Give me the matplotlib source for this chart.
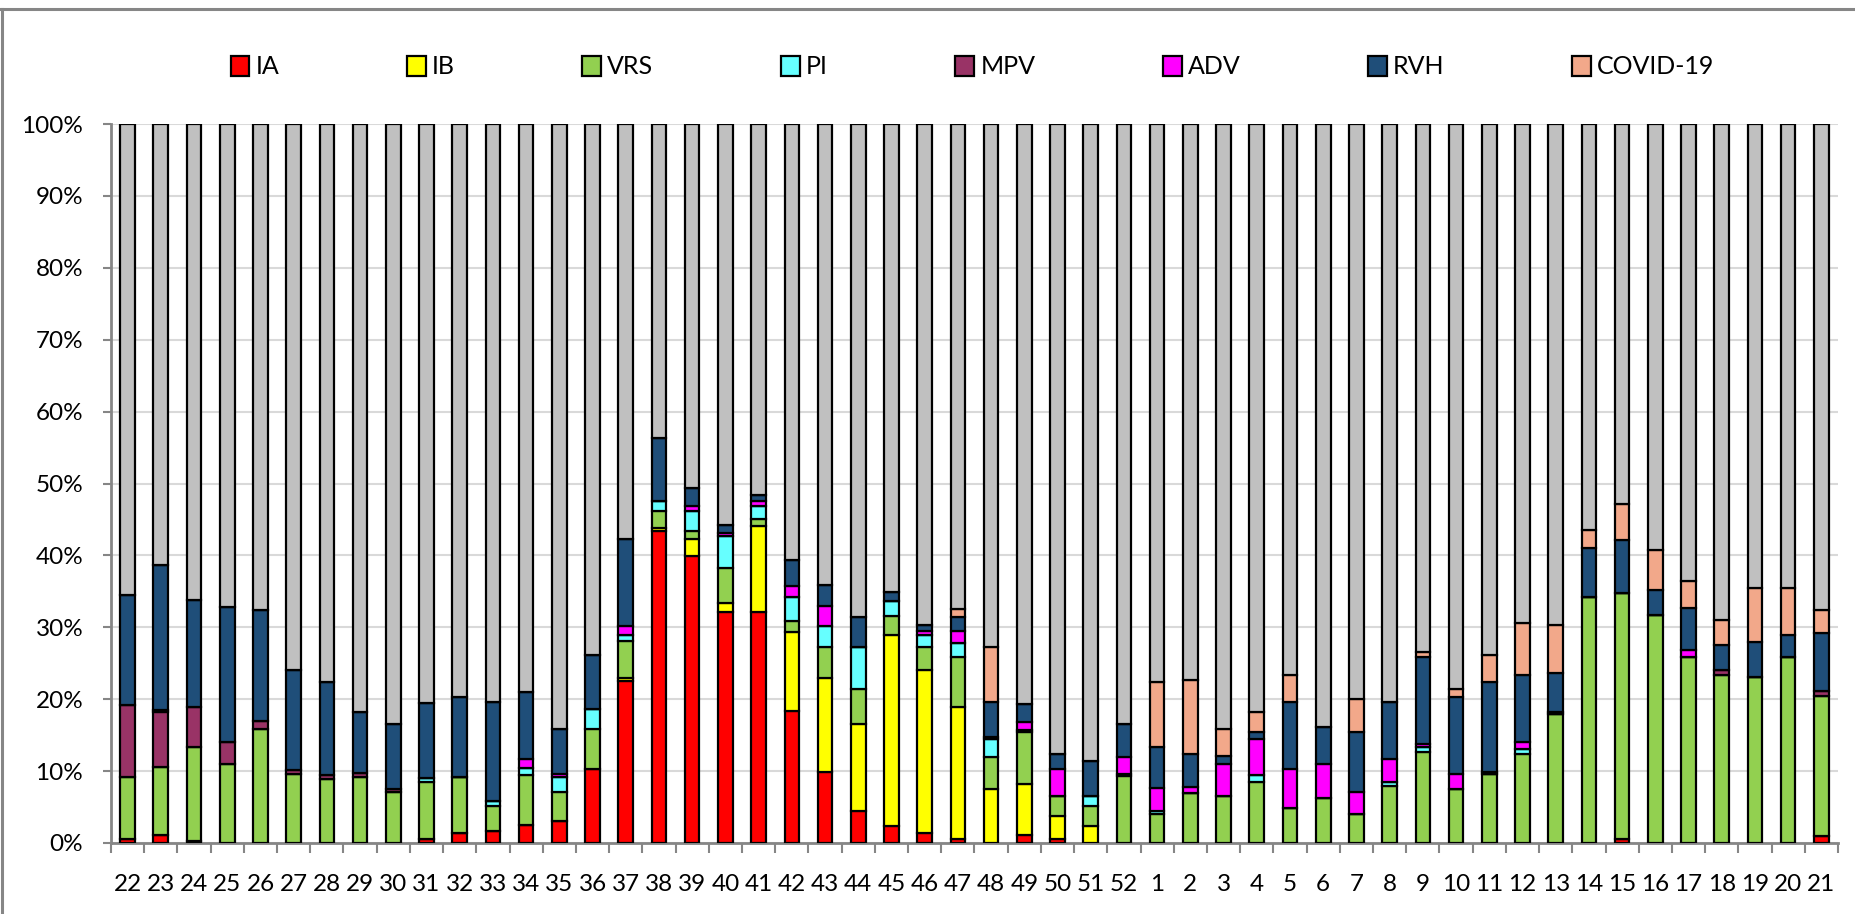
import matplotlib.pyplot as plt
import numpy as np
from matplotlib.lines import Line2D

plt.rcParams['font.family'] = ['Lato', 'DejaVu Sans']

weeks = [str(w) for w in list(range(22, 53)) + list(range(1, 22))]

# percentages per week (22..52, then 1..21)
ia = [0.5, 1.1, 0.3, 0, 0, 0, 0, 0, 0, 0.6, 1.4, 1.7, 2.5, 3.1, 10.3, 22.5, 43.4, 39.9, 32.1, 32.1,
      18.3, 9.9, 4.5, 2.4, 1.4, 0.6, 0, 1.1, 0.6, 0, 0,
      0, 0, 0, 0, 0, 0, 0, 0, 0, 0, 0, 0, 0, 0, 0.6, 0, 0, 0, 0, 0, 1.0]
ib = [0, 0, 0, 0, 0, 0, 0, 0, 0, 0, 0, 0, 0, 0, 0, 0.4, 0.4, 2.4, 1.3, 12.0,
      11.0, 13.1, 12.0, 26.5, 22.7, 18.3, 7.5, 7.1, 3.1, 2.4, 0,
      0, 0, 0, 0, 0, 0, 0, 0, 0, 0, 0, 0, 0, 0, 0, 0, 0, 0, 0, 0, 0]
vrs = [8.7, 9.5, 13.1, 11.0, 15.9, 9.6, 8.9, 9.2, 7.1, 7.9, 7.8, 3.4, 7.0, 4.0, 5.5, 5.2, 2.4, 1.1, 4.8, 1.0,
       1.6, 4.2, 4.9, 2.7, 3.1, 6.9, 4.5, 7.2, 2.8, 2.7, 9.3,
       4.1, 6.9, 6.5, 8.5, 4.8, 6.2, 4.1, 7.9, 12.7, 7.5, 9.6, 12.4, 17.9, 34.2, 34.2, 31.7, 25.8, 23.4, 23.1, 25.8, 19.5]
pi = [0, 0, 0, 0, 0, 0, 0, 0, 0, 0.6, 0, 0.8, 0.9, 2.1, 2.8, 0.8, 1.4, 2.8, 4.5, 1.8,
      3.3, 3.0, 5.8, 2.1, 1.7, 2.0, 2.4, 0.3, 0, 1.4, 0.3,
      0.3, 0, 0, 1.0, 0, 0, 0, 0.6, 0.7, 0, 0, 0.7, 0, 0, 0, 0, 0, 0, 0, 0, 0]
mpv = [10.0, 7.6, 5.5, 3.1, 1.0, 0.5, 0.5, 0.6, 0.4, 0, 0, 0, 0, 0, 0, 0, 0, 0, 0, 0,
       0, 0, 0, 0, 0, 0, 0, 0, 0, 0, 0,
       0, 0, 0, 0, 0, 0, 0, 0, 0, 0, 0, 0, 0, 0, 0, 0, 0, 0.6, 0, 0, 0.7]
adv = [0, 0.3, 0, 0, 0, 0, 0, 0, 0, 0, 0, 0, 1.3, 0.4, 0, 1.3, 0, 0.7, 0.4, 0.7,
       1.6, 2.8, 0, 0, 0.6, 1.7, 0.3, 1.1, 3.8, 0, 2.3,
       3.3, 0.9, 4.5, 5.0, 5.5, 4.8, 3.0, 3.2, 0.3, 2.1, 0.3, 1.0, 0.3, 0, 0, 0, 1.1, 0, 0, 0, 0]
rvh = [15.3, 20.1, 14.9, 18.7, 15.5, 14.0, 13.0, 8.4, 9.1, 10.4, 11.1, 13.7, 9.3, 6.3, 7.6, 12.1, 8.7, 2.5, 1.1, 0.8,
       3.5, 2.9, 4.2, 1.2, 0.8, 1.9, 4.9, 2.5, 2.1, 4.9, 4.6,
       5.7, 4.6, 1.1, 1.0, 9.3, 5.1, 8.4, 7.9, 12.1, 10.7, 12.5, 9.3, 5.5, 6.8, 7.3, 3.5, 5.8, 3.6, 4.8, 3.1, 8.0]
covid = [0, 0, 0, 0, 0, 0, 0, 0, 0, 0, 0, 0, 0, 0, 0, 0, 0, 0, 0, 0,
         0, 0, 0, 0, 0, 1.1, 7.6, 0, 0, 0, 0,
         9.0, 10.3, 3.8, 2.7, 3.8, 0, 4.5, 0, 0.7, 1.1, 3.8, 7.2, 6.6, 2.5, 5.1, 5.5, 3.8, 3.4, 7.5, 6.5, 3.2]

series = [
    ("IA", ia, "#FF0000"),
    ("IB", ib, "#FFFF00"),
    ("VRS", vrs, "#92D050"),
    ("PI", pi, "#66FFFF"),
    ("MPV", mpv, "#993366"),
    ("ADV", adv, "#FF00FF"),
    ("RVH", rvh, "#1F4E79"),
    ("COVID-19", covid, "#F2A88A"),
]

fig = plt.figure(figsize=(18.56, 9.14), dpi=100)
ax = fig.add_axes([0.0598, 0.0777, 0.9305, 0.7866])

x = np.arange(len(weeks))
w = 0.44
lw = 1.6
bottom = np.zeros(len(weeks))
handles = []
for name, vals, col in series:
    vals = np.array(vals, dtype=float)
    ax.bar(x, vals, w, bottom=bottom, color=col, edgecolor="black", linewidth=lw, zorder=3)
    bottom += vals
    handles.append(plt.Rectangle((0, 0), 1, 1, facecolor=col, edgecolor="black", linewidth=lw))

# remainder (negative samples) in grey
ax.bar(x, 100 - bottom, w, bottom=bottom, color="#C0C0C0", edgecolor="black", linewidth=lw, zorder=3)

ax.set_xlim(-0.5, len(weeks) - 0.5)
ax.set_ylim(0, 100)
ax.set_yticks(np.arange(0, 101, 10))
ax.set_yticklabels([f"{v}%" for v in range(0, 101, 10)])
ax.set_xticks(x)
ax.set_xticklabels(weeks)
ax.set_xticks(np.arange(-0.5, len(weeks)), minor=True)
ax.tick_params(axis="x", which="major", length=0, pad=22, labelsize=17.5)
ax.tick_params(axis="x", which="minor", length=7, width=1.5, color="#868686")
ax.tick_params(axis="y", length=6, width=1.5, color="#868686", labelsize=17.5, pad=14)
ax.grid(axis="y", color="#D9D9D9", linewidth=1.5, zorder=0)
for s in ["top", "right"]:
    ax.spines[s].set_visible(False)
for s in ["left", "bottom"]:
    ax.spines[s].set_color("#868686")
    ax.spines[s].set_linewidth(2)

fig.legend(handles, [s[0] for s in series], loc="center", bbox_to_anchor=(0.524, 0.927),
           ncol=8, frameon=False, fontsize=18, handlelength=0.75, handleheight=0.85,
           handletextpad=0.25, columnspacing=5.1)

# chart area border
fig.add_artist(Line2D([0, 1], [1 - 9 / 914] * 2, color="#868686", linewidth=2.2, transform=fig.transFigure))
fig.add_artist(Line2D([2 / 1856] * 2, [0, 1 - 9 / 914], color="#868686", linewidth=2.2, transform=fig.transFigure))

fig.savefig("out.png", dpi=100)
